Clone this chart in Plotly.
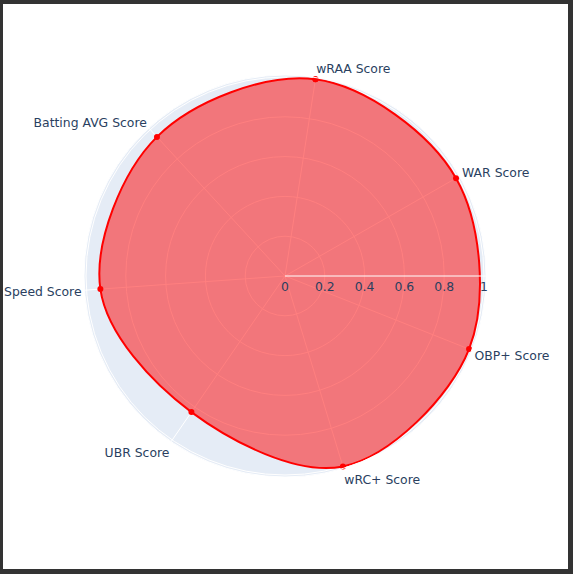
import plotly.graph_objects as go

categories = ["wRAA Score", "WAR Score", "OBP+ Score", "wRC+ Score",
              "UBR Score", "Speed Score", "Batting AVG Score"]
values = [1.0, 0.99, 0.995, 1.0, 0.83, 0.93, 0.95]

theta = categories + [categories[0]]
r = values + [values[0]]

W, H = 573, 574
L, R, T, B = 84, 87, 75, 97
pw, ph = W - L - R, H - T - B


def px2x(px):
    return (px - L) / pw


def py2y(py):
    return (H - B - py) / ph


fig = go.Figure()
fig.add_trace(go.Scatterpolar(
    r=r, theta=theta, mode="lines+markers", fill="toself",
    line=dict(color="red", width=2, shape="spline"),
    marker=dict(color="red", size=6),
    showlegend=False,
))

border = "#333333"
shapes = []
for (x0, y0, x1, y1) in [(0, 0, 3, H), (0, 0, W, 4), (568, 0, W, H), (0, 569, W, H)]:
    shapes.append(dict(type="rect", xref="paper", yref="paper",
                       x0=px2x(x0), x1=px2x(x1), y0=py2y(y1), y1=py2y(y0),
                       fillcolor=border, line=dict(width=0), layer="above"))

fig.update_layout(
    width=W, height=H,
    margin=dict(l=L, r=R, t=T, b=B),
    template="plotly",
    font=dict(family="Verdana, DejaVu Sans, sans-serif", size=12.4, color="#2a3f5f"),
    polar=dict(
        radialaxis=dict(visible=True, range=[0, 1.01], tickvals=[0, 0.2, 0.4, 0.6, 0.8, 1],
                        ticktext=["0", "0.2", "0.4", "0.6", "0.8", "1"]),
        angularaxis=dict(rotation=81.2, direction="clockwise"),
    ),
    shapes=shapes,
    paper_bgcolor="white",
)

fig.write_html("out.html")
